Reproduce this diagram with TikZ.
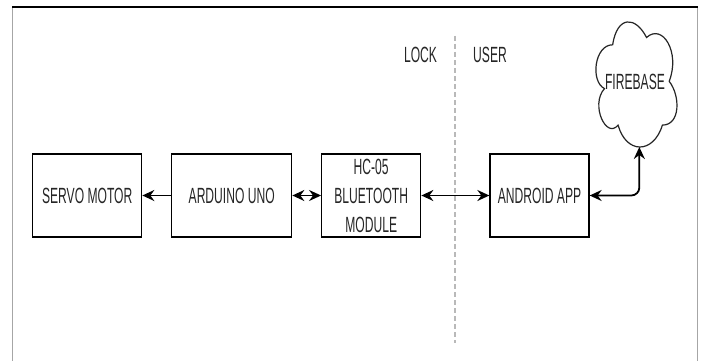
\documentclass[tikz,border=0pt]{standalone}
\usepackage{fontspec}
\setmainfont{Liberation Sans}[FakeStretch=0.55]
\usetikzlibrary{arrows.meta}
\begin{document}
\begin{tikzpicture}[x=1pt,y=-1pt,
  >={Stealth[length=12pt,width=11pt,inset=4pt]},
  blockbox/.style={draw=black,line width=1.3pt,minimum height=83pt,inner sep=0pt,align=center,
    font=\fontsize{22}{29}\selectfont,text=black!85},
  plain/.style={inner sep=0pt,font=\fontsize{22}{29}\selectfont,text=black!85},
  conn/.style={line width=1.8pt,draw=black}]
\useasboundingbox (0,0) rectangle (703,361);
\fill[white] (0,0) rectangle (703,361);
% frame
\draw[gray!70,line width=1.2pt] (12.5,8) -- (12.5,361);
\draw[gray!70,line width=1.2pt] (697.5,8) -- (697.5,361);
\draw[black,line width=2pt] (12,7.5) -- (698,7.5);
% divider
\draw[gray!55,line width=1.8pt,dash pattern=on 5pt off 3pt] (455,36) -- (455,343);
\node[plain] (lock) at (420.5,55) {LOCK};
\node[plain] (user) at (490,55) {USER};
% blocks
\node[blockbox,minimum width=109pt] (servo) at (87.2,195.5) {SERVO MOTOR};
\node[blockbox,minimum width=120pt] (arduino) at (231.7,195.5) {ARDUINO UNO};
\node[blockbox,minimum width=99pt] (hc) at (371.2,195.5) {HC-05\\BLUETOOTH\\MODULE};
\node[blockbox,minimum width=99pt] (android) at (539.5,195.5) {ANDROID APP};
% cloud (w=90.5, h=146, origin 590,8.3)
\begin{scope}[shift={(590,8.3)},x=90.5pt,y=-146pt]
\draw[black!85,line width=1.2pt,fill=white]
  (0.25,0.25) .. controls (0.05,0.25) and (0,0.5) .. (0.16,0.55)
  .. controls (0,0.66) and (0.18,0.9) .. (0.31,0.8)
  .. controls (0.4,1) and (0.7,1) .. (0.8,0.8)
  .. controls (1,0.8) and (1,0.6) .. (0.875,0.5)
  .. controls (1,0.3) and (0.8,0.1) .. (0.625,0.2)
  .. controls (0.5,0.05) and (0.3,0.05) .. (0.25,0.25) -- cycle;
\coordinate (fbbottom) at (0.545,0.95);
\end{scope}
\node[plain] (firebase) at (635,82) {FIREBASE};
% connectors
\draw[conn,->] (arduino.west) -- (servo.east);
\draw[conn,<->] (arduino.east) -- (hc.west);
\draw[conn,<->] (hc.east) -- (android.west);
\draw[conn,<->,rounded corners=8pt] (android.east) -| (fbbottom);
\end{tikzpicture}
\end{document}
